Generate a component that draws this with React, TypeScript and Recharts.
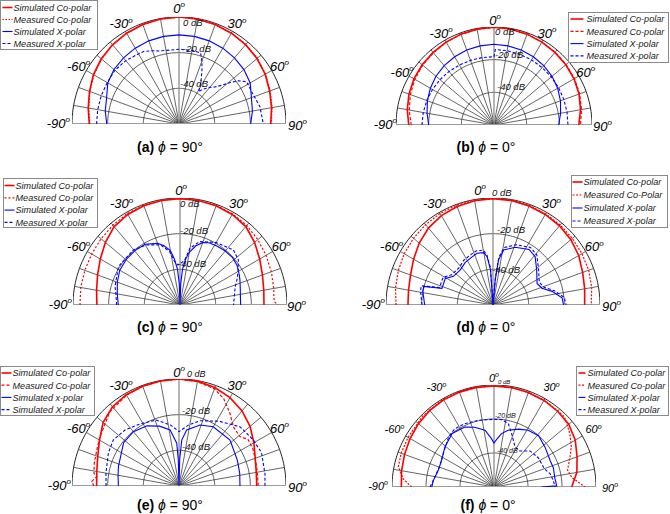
import React from 'react';
import { ComposedChart, Line, XAxis, YAxis } from 'recharts';

// ---------- data (angles in degrees, values in dB) ----------
const FLOOR_DB = -60; // value at the centre of every polar panel
const ANG10 = [-90, -80, -70, -60, -50, -40, -30, -20, -10, 0, 10, 20, 30, 40, 50, 60, 70, 80, 90];
const RING_DB = [-40, -20, 0];
const SPOKE_ANG = [-80, -70, -60, -50, -40, -30, -20, -10, 10, 20, 30, 40, 50, 60, 70, 80];
const LABEL_ANG = [-60, -30, 0, 30, 60];

// (a) phi = 90
const aSimCo = [-9.7, -8.3, -6.6, -4.6, -3.1, -2.0, -1.2, -0.6, -0.2, 0, -0.2, -0.6, -1.2, -1.9, -2.9, -4.2, -5.9, -7.3, -8.6];
const aMeaCo = [-10.0, -8.6, -6.8, -4.9, -3.3, -2.1, -1.3, -0.7, -0.3, -0.1, -0.3, -0.7, -1.1, -1.8, -2.7, -4.0, -5.6, -7.0, -8.3];
const aSimX = [-19.5, -18.0, -16.8, -13.9, -12.4, -11.6, -10.9, -10.4, -10.1, -10.0, -10.1, -10.4, -10.9, -11.6, -12.5, -13.9, -16.8, -18.2, -19.8];
const aMeaXAng = [-90, -80, -70, -60, -50, -40, -30, -26, -20, -15, -10, 0, 10, 13, 17, 20, 23, 26, 29, 31, 34, 40, 44, 48, 51, 54, 58, 66, 78, 90];
const aMeaX = [-13.8, -13.7, -13.6, -13.5, -13.1, -13.6, -14.6, -14.8, -16.3, -17.6, -18.1, -18.1, -18.1, -18.2, -18.5, -22.5, -27, -31.5, -35.5, -38.9, -36.5, -33.2, -31.2, -27.5, -23, -18.8, -15.3, -15.4, -13.6, -12.7];

// (b) phi = 0
const bSimCo = [-7.8, -6.1, -4.6, -3.4, -2.6, -2.0, -1.4, -0.8, -0.4, -0.2, -0.4, -0.8, -1.4, -2.0, -2.6, -3.4, -4.6, -6.2, -8.1];
const bMeaCo = [-9.3, -7.3, -5.5, -4.0, -3.0, -2.2, -1.5, -0.9, -0.5, -0.3, -0.5, -0.9, -1.3, -1.8, -2.4, -3.1, -4.2, -5.6, -7.0];
const bSimX = [-20.0, -18.4, -16.6, -15.0, -13.6, -12.6, -11.8, -11.2, -10.8, -10.6, -10.8, -11.2, -11.8, -12.6, -13.6, -15.0, -16.7, -18.6, -20.4];
const bMeaXAng = [-90, -80, -70, -60, -50, -40, -30, -20, -10, 0, 1, 10, 20, 30, 40, 50, 60, 70, 80, 90];
const bMeaX = [-15.9, -16.0, -16.2, -16.5, -16.8, -17.2, -17.6, -17.9, -18.1, -18.2, -13.8, -13.8, -13.9, -14.0, -14.1, -14.2, -14.3, -14.5, -14.6, -14.7];

// (c) phi = 90
const cSimCo = [-13.4, -12.5, -10.8, -8.4, -5.4, -2.6, -1.4, -0.8, -0.5, -0.4, -0.5, -0.8, -1.4, -2.6, -5.4, -8.4, -10.8, -12.3, -12.9];
const cMeaCoAng = [-90, -80, -70, -60, -50, -40, -30, -20, -10, 0, 10, 20, 30, 40, 50, 60, 70, 80, 85, 88, 90];
const cMeaCo = [-3.9, -3.5, -3.2, -2.8, -2.2, -1.5, -0.8, -0.4, -0.2, -0.3, -0.3, -0.6, -1.0, -1.8, -3.0, -4.3, -5.5, -6.6, -7.2, -7.0, -5.0];
const cSimXAng = [-90, -80, -70, -60, -50, -40, -30, -20, -15, -10, -7, -4, -2, 0, 2, 4, 7, 10, 15, 20, 25, 32, 40, 48, 55, 62, 67, 75, 82, 90];
const cSimX = [-25.4, -24.3, -22.6, -21.0, -20.5, -20.4, -20.7, -23.2, -25.6, -29, -34, -40, -48, -60, -48, -40, -34, -30, -25.6, -22.8, -21.5, -21.0, -20.5, -20.3, -21.0, -22.5, -23.5, -25.0, -25.8, -26.0];
const cMeaXAng = [-90, -80, -74, -58, -40, -29, -18, -11, -7, -3, 0, 3, 6, 10, 17, 30, 44, 52, 59, 66, 72, 80, 90];
const cMeaX = [-24.5, -23.5, -22.1, -19.3, -19.5, -21.5, -24.5, -29.5, -35.5, -37.5, -36.6, -36, -34.6, -27.7, -22.8, -19.5, -17, -18.5, -21.9, -25, -27.5, -29, -30];

// (d) phi = 0
const dSimCo = [-12.3, -11.9, -10.8, -8.6, -6.0, -3.7, -2.1, -1.2, -0.6, -0.4, -0.5, -0.9, -1.4, -2.0, -3.0, -4.5, -6.5, -7.8, -8.6];
const dMeaCo = [-5.6, -4.5, -3.5, -2.5, -1.8, -1.2, -0.7, -0.4, -0.2, -0.2, -0.3, -0.6, -1.0, -1.4, -1.9, -2.4, -2.9, -3.8, -4.9];
const dXAng = [-90, -79, -75, -72, -61, -54, -43, -33, -23, -17, -10, -7, -4, 0, 5, 7, 11, 21, 33, 41, 51, 64, 71, 77, 84, 90];
const dSimX = [-21.7, -19.9, -19.8, -29.9, -29.4, -32.6, -33.1, -31.5, -30.5, -29.7, -30.2, -32.7, -40.3, -60, -46, -34.5, -28.6, -25.3, -22.9, -24, -28.5, -32.5, -31, -26, -21.1, -20.4];
const dMeaX = [-20.2, -18.6, -18.4, -28.4, -28.0, -31.2, -31.8, -30.0, -29.0, -28.2, -28.8, -31.5, -39.0, -60, -44.5, -33.0, -27.2, -23.8, -21.5, -22.6, -27.2, -31.1, -29.6, -24.6, -19.8, -19.0];

// (e) phi = 90
const eSimCo = [-13.8, -13.2, -11.5, -8.5, -4.5, -2.0, -0.9, -0.5, -0.2, 0, -0.3, -1.2, -2.8, -5.0, -8.0, -11.5, -14.5, -16.0, -16.4];
const eMeaCoAng = [-90, -87, -83.5, -81.5, -75, -66, -58, -43, -30, -20, -10, 0, 10, 20, 27, 35, 42.5, 51, 56, 64, 76, 90];
const eMeaCo = [-12.3, -11.0, -13.6, -11.8, -10.8, -9.6, -7.8, -3.1, -1.2, -0.5, -0.2, -0.1, -0.6, -2.0, -4.9, -10.2, -14.9, -16, -13.3, -13.7, -15.1, -15.5];
const eSimXAng = [-90, -80, -72, -52, -40, -28, -18, -9, -3, -1.5, 0, 1.5, 3.4, 7.8, 19, 30, 48, 66, 78, 90];
const eSimX = [-26, -25.3, -24.3, -20.6, -20.2, -21.8, -24.7, -28.2, -36, -45.4, -60, -45, -34.2, -28.3, -23.8, -21.6, -21.5, -24.2, -25.2, -25.8];
const eSimX2Ang = [-90, -80, -65, -55, -44, -32, -19, -8, 0, 9, 18, 32, 46, 58, 68, 82, 90];
const eSimX2 = [-19.1, -18.4, -16.3, -15, -16.4, -18.9, -20.9, -25.4, -29.5, -25.3, -21.5, -17.2, -12.3, -11, -10.1, -11.3, -11.8];

// (f) phi = 0
const fSimCo = [-5.5, -4.8, -4.0, -3.0, -2.0, -1.2, -0.8, -0.6, -0.5, -0.6, -0.6, -0.8, -1.2, -1.8, -2.6, -4.8, -8.0, -10.5, -14.3];
const fMeaCoAng = [-90, -85, -78, -70, -60, -45, -30, -15, 0, 15, 30, 40, 45, 49, 55, 62, 68.5, 77, 83, 90];
const fMeaCo = [-11.6, -6.4, -2.5, -1.9, -1.6, -0.8, -0.3, -0.2, -0.3, -0.5, -0.9, -1.6, -1.5, -3.3, -5.5, -8.5, -11.9, -15.6, -13.9, -6.5];
const fSimXAng = [-90, -84, -73, -63, -51, -38, -26, -18, -9, -3, 0, 3, 8, 14, 23, 31, 41, 52, 65, 72, 82, 89, 90];
const fSimX = [-23.4, -24.1, -25.8, -25.4, -22.8, -20, -20.8, -23, -26.2, -31.5, -34.1, -32.1, -28.3, -25.6, -23, -21, -20, -21.9, -23.5, -23.3, -23.8, -23.1, -32];
const fMeaXAng = [-90, -80, -68, -57, -42, -34, -25, -13, 0, 6.5, 12.7, 18.4, 27.7, 35.8, 45, 56.5, 70, 76.6, 83.6, 90];
const fMeaX = [-22.4, -24.8, -25.8, -24.3, -20.2, -18.7, -19, -19.7, -20.2, -20.1, -21.8, -27, -33.4, -33.9, -30, -28.8, -28.5, -26.1, -24.9, -24.1];

const LEG_STD = ['Simulated Co-polar', 'Measured Co-polar', 'Simulated X-polar', 'Measured X-polar'];
const LEG_D = ['Simulated Co-polar', 'Measured Co-Polar', 'Simulated X-polar', 'Measured X-polar'];
const LEG_E = ['Simulated Co-polar', 'Measured Co-polar', 'Simulated x-polar', 'Simulated X-polar'];

// ---------- helpers ----------
const RED = '#ff0000';
const BLUE = '#0000ff';
const FONT = '"Liberation Sans", Arial, Helvetica, sans-serif';

type Pt = { x: number; y: number };
const toPts = (ang: number[], db: number[]): Pt[] =>
  ang.map((a, i) => {
    const r = Math.max(0, db[i] - FLOOR_DB);
    const t = (a * Math.PI) / 180;
    return { x: r * Math.sin(t), y: r * Math.cos(t) };
  });

const ARC_ANG = Array.from({ length: 91 }, (_, i) => -90 + 2 * i);
const ringPts = (db: number) => toPts(ARC_ANG, ARC_ANG.map(() => db));
const spokePts = (a: number) => toPts([a, a], [FLOOR_DB, 0]);

type Series = { ang: number[]; db: number[]; color: string; dash?: string; width: number };
type Panel = {
  key: string;
  cx: number;
  cy: number;
  R: number;
  series: Series[];
  caption: string;
  phi: string;
  capX: number;
  capY: number;
  lo: number;
  zeroDx: number;
  zeroOff: number;
  angFont: number;
  side90: [number, number];
  db: { t: string; dx: number; dy: number; fs: number }[];
  leg: { x: number; y: number; w: number; h: number; row0: number; gap: number; lx0: number; lx1: number; tx: number; labels: string[] };
};

const mk = (sc: number[], mc: number[], mcAng: number[], sx: number[], sxAng: number[], mx: number[], mxAng: number[], mcDash: string): Series[] => [
  { ang: ANG10, db: sc, color: RED, width: 1.6 },
  { ang: mcAng, db: mc, color: RED, dash: mcDash, width: 1.2 },
  { ang: sxAng, db: sx, color: BLUE, width: 1.1 },
  { ang: mxAng, db: mx, color: BLUE, dash: '3 2', width: 1.1 },
];

const PANELS: Panel[] = [
  {
    key: 'a', cx: 179, cy: 124, R: 107,
    series: mk(aSimCo, aMeaCo, ANG10, aSimX, ANG10, aMeaX, aMeaXAng, '1.5 1.5'),
    caption: '(a)', phi: '90', capX: 170, capY: 152, lo: 9, zeroDx: 0, zeroOff: 9, angFont: 13, side90: [2, 2],
    db: [{ t: '0 dB', dx: 4, dy: 98, fs: 9.5 }, { t: '-20 dB', dx: 4, dy: 72, fs: 9.5 }, { t: '-40 dB', dx: 1, dy: 37, fs: 9.5 }],
    leg: { x: 0.5, y: 0.5, w: 97, h: 49, row0: 7, gap: 12, lx0: 2, lx1: 12, tx: 13, labels: LEG_STD },
  },
  {
    key: 'b', cx: 494, cy: 125, R: 98,
    series: mk(bSimCo, bMeaCo, ANG10, bSimX, ANG10, bMeaX, bMeaXAng, '3 2'),
    caption: '(b)', phi: '0', capX: 486, capY: 152, lo: 8, zeroDx: 1, zeroOff: 7, angFont: 13, side90: [-1, 1],
    db: [{ t: '0 dB', dx: 1, dy: 90, fs: 9.5 }, { t: '-20 dB', dx: 1, dy: 67, fs: 9.5 }, { t: '-40 dB', dx: 3, dy: 35, fs: 9.5 }],
    leg: { x: 568.5, y: 12.5, w: 100, h: 50, row0: 6.5, gap: 12.3, lx0: 2, lx1: 15, tx: 18, labels: LEG_STD },
  },
  {
    key: 'c', cx: 180, cy: 305, R: 107,
    series: mk(cSimCo, cMeaCo, cMeaCoAng, cSimX, cSimXAng, cMeaX, cMeaXAng, '2 2'),
    caption: '(c)', phi: '90', capX: 170, capY: 332, lo: 10, zeroDx: 1, zeroOff: 8, angFont: 13, side90: [1, 0],
    db: [{ t: '0 dB', dx: 0, dy: 98, fs: 9.5 }, { t: '-20 dB', dx: 0, dy: 71, fs: 9.5 }, { t: '-40 dB', dx: -2, dy: 38, fs: 9.5 }],
    leg: { x: 3.5, y: 178.5, w: 94, h: 49, row0: 7, gap: 12.3, lx0: 1, lx1: 11, tx: 12, labels: LEG_STD },
  },
  {
    key: 'd', cx: 493, cy: 305, R: 107,
    series: mk(dSimCo, dMeaCo, ANG10, dSimX, dXAng, dMeaX, dXAng, '2 1.5'),
    caption: '(d)', phi: '0', capX: 486, capY: 332, lo: 10, zeroDx: -13, zeroOff: 8, angFont: 13, side90: [1, 2],
    db: [{ t: '0 dB', dx: -1, dy: 109, fs: 9.5 }, { t: '-20 dB', dx: 4, dy: 72, fs: 9.5 }, { t: '-40 dB', dx: -1, dy: 32, fs: 9.5 }],
    leg: { x: 571.5, y: 175.5, w: 96, h: 52, row0: 6.5, gap: 13, lx0: 1, lx1: 11, tx: 12, labels: LEG_D },
  },
  {
    key: 'e', cx: 179, cy: 486, R: 107,
    series: mk(eSimCo, eMeaCo, eMeaCoAng, eSimX, eSimXAng, eSimX2, eSimX2Ang, '3 2'),
    caption: '(e)', phi: '90', capX: 170, capY: 510, lo: 9, zeroDx: 0, zeroOff: 7, angFont: 13, side90: [1, 2],
    db: [{ t: '0 dB', dx: 8, dy: 109, fs: 9 }, { t: '-20 dB', dx: 3, dy: 72, fs: 9.5 }, { t: '-40 dB', dx: 3, dy: 36, fs: 9.5 }],
    leg: { x: 0.5, y: 366.5, w: 94, h: 49, row0: 6.5, gap: 12.2, lx0: 1, lx1: 11, tx: 12, labels: LEG_E },
  },
  {
    key: 'f', cx: 494, cy: 487, R: 102,
    series: mk(fSimCo, fMeaCo, fMeaCoAng, fSimX, fSimXAng, fMeaX, fMeaXAng, '2 1.5'),
    caption: '(f)', phi: '0', capX: 488, capY: 510, lo: 13, zeroDx: 0, zeroOff: 7, angFont: 11, side90: [4, 6],
    db: [{ t: '0 dB', dx: 4, dy: 103, fs: 6 }, { t: '-20 dB', dx: 1, dy: 69, fs: 7 }, { t: '-40 dB', dx: 3, dy: 34, fs: 7 }],
    leg: { x: 576.5, y: 366.5, w: 92, h: 49, row0: 6.5, gap: 12.2, lx0: 2, lx1: 9, tx: 11, labels: LEG_STD },
  },
];

function PolarPanel({ p }: { p: Panel }) {
  const P = 3;
  const W = 2 * p.R + 2 * P;
  const H = p.R + 2 * P;
  return (
    <div style={{ position: 'absolute', left: p.cx - p.R - P, top: p.cy - p.R - P, width: W, height: H }}>
      <ComposedChart width={W} height={H} margin={{ top: P, right: P, bottom: P, left: P }}>
        <XAxis type="number" dataKey="x" domain={[-60, 60]} hide allowDataOverflow />
        <YAxis type="number" dataKey="y" domain={[0, 60]} hide allowDataOverflow />
        {SPOKE_ANG.map((a) => (
          <Line key={'sp' + a} data={spokePts(a)} dataKey="y" type="linear" stroke="#333" strokeWidth={0.75}
            dot={false} activeDot={false} isAnimationActive={false} legendType="none" />
        ))}
        {RING_DB.map((d) => (
          <Line key={'rg' + d} data={ringPts(d)} dataKey="y" type="linear" stroke={d === 0 ? '#262626' : '#333'}
            strokeWidth={d === 0 ? 1 : 0.8} dot={false} activeDot={false} isAnimationActive={false} legendType="none" />
        ))}
        <Line key="zero" data={spokePts(0)} dataKey="y" type="linear" stroke="#8e8e8e" strokeWidth={1.3}
          dot={false} activeDot={false} isAnimationActive={false} legendType="none" />
        <Line key="base" data={toPts([-90, 90], [0, 0])} dataKey="y" type="linear" stroke="#9c9c9c" strokeWidth={2.2}
          dot={false} activeDot={false} isAnimationActive={false} legendType="none" />
        {p.series.map((s, i) => (
          <Line key={'s' + i} data={toPts(s.ang, s.db)} dataKey="y" type="linear" stroke={s.color}
            strokeWidth={s.width} strokeDasharray={s.dash} dot={false} activeDot={false} isAnimationActive={false} />
        ))}
      </ComposedChart>
    </div>
  );
}

function PanelText({ p }: { p: Panel }) {
  const sup = Math.round(p.angFont * 0.62);
  const supDy = -p.angFont * 0.42;
  const angLabel = (txt: string) => (
    <>
      {txt}
      <tspan dy={supDy} fontSize={sup}>o</tspan>
    </>
  );
  return (
    <g fontFamily={FONT}>
      {LABEL_ANG.map((a) => {
        const off = a === 0 ? p.zeroOff : p.lo;
        const r = p.R + off;
        const t = (a * Math.PI) / 180;
        const x = p.cx + r * Math.sin(t) + (a === 0 ? p.zeroDx : 0);
        const y = p.cy - r * Math.cos(t);
        return (
          <text key={a} x={x} y={y + p.angFont * 0.36} textAnchor="middle" fontSize={p.angFont} fontStyle="italic" fill="#000">
            {angLabel(String(a))}
          </text>
        );
      })}
      <text x={p.cx - p.R - p.side90[0]} y={p.cy - 1 + p.angFont * 0.36} textAnchor="end" fontSize={p.angFont} fontStyle="italic" fill="#000">
        {angLabel('-90')}
      </text>
      <text x={p.cx + p.R + p.side90[1]} y={p.cy + 1 + p.angFont * 0.36} textAnchor="start" fontSize={p.angFont} fontStyle="italic" fill="#000">
        {angLabel('90')}
      </text>
      {p.db.map((d) => (
        <text key={d.t} x={p.cx + d.dx} y={p.cy - d.dy} fontSize={d.fs} fontStyle="italic" fill="#111">
          {d.t}
        </text>
      ))}
      <text x={p.capX} y={p.capY} textAnchor="middle" fontSize={14} fill="#000">
        <tspan fontWeight="bold">{p.caption}</tspan>
        <tspan> </tspan>
        <tspan fontStyle="italic">ϕ</tspan>
        <tspan>{' = ' + p.phi + '°'}</tspan>
      </text>
      <g>
        <rect x={p.leg.x} y={p.leg.y} width={p.leg.w} height={p.leg.h} fill="#fff" stroke="#8a8a8a" strokeWidth={1} />
        {p.leg.labels.map((lab, i) => {
          const s = p.series[i];
          const y = p.leg.y + p.leg.row0 + i * p.leg.gap;
          return (
            <g key={i}>
              <line x1={p.leg.x + p.leg.lx0} x2={p.leg.x + p.leg.lx1} y1={y} y2={y} stroke={s.color}
                strokeWidth={s.width} strokeDasharray={s.dash} />
              <text x={p.leg.x + p.leg.tx} y={y + 3.3} fontSize={9.1} fontStyle="italic" fill="#222">
                {lab}
              </text>
            </g>
          );
        })}
      </g>
    </g>
  );
}

export default function App() {
  return (
    <div style={{ position: 'absolute', left: 0, top: 0, width: 670, height: 514, background: '#fff', overflow: 'hidden' }}>
      {PANELS.map((p) => (
        <PolarPanel key={p.key} p={p} />
      ))}
      <svg width={670} height={514} style={{ position: 'absolute', left: 0, top: 0, pointerEvents: 'none' }}>
        {PANELS.map((p) => (
          <PanelText key={p.key} p={p} />
        ))}
      </svg>
    </div>
  );
}
